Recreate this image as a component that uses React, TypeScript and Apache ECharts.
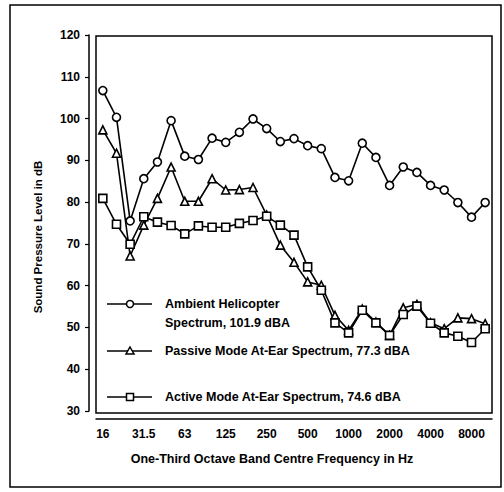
import React, { useEffect, useRef } from "react";
import * as echarts from "echarts";

const bands = ["16", "20", "25", "31.5", "40", "50", "63", "80", "100", "125", "160", "200", "250", "315", "400", "500", "630", "800", "1000", "1250", "1600", "2000", "2500", "3150", "4000", "5000", "6300", "8000", "10000"];
const labelledBands = ["16", "31.5", "63", "125", "250", "500", "1000", "2000", "4000", "8000"];

const ambient = [106.7, 100.3, 75.5, 85.6, 89.6, 99.5, 91.0, 90.2, 95.3, 94.3, 96.7, 99.9, 97.6, 94.5, 95.2, 93.5, 92.8, 85.9, 85.1, 94.1, 90.7, 84.0, 88.4, 87.1, 84.0, 82.9, 79.9, 76.4, 79.9];
const passive = [97.3, 91.7, 67.1, 74.5, 80.9, 88.4, 80.2, 80.2, 85.6, 82.9, 83.0, 83.5, 76.9, 69.7, 65.6, 60.9, 60.1, 52.9, 49.3, 54.4, 51.3, 48.1, 54.7, 55.5, 51.1, 49.7, 52.3, 52.1, 50.9];
const active = [80.9, 74.7, 69.9, 76.5, 75.2, 74.4, 72.4, 74.3, 74.0, 74.0, 74.9, 75.6, 76.6, 74.5, 72.1, 64.5, 58.9, 51.1, 48.7, 54.1, 51.1, 48.1, 53.1, 55.1, 51.0, 48.7, 47.9, 46.4, 49.7];

const seriesNames = ["Ambient Helicopter Spectrum, 101.9 dBA", "Passive Mode At-Ear Spectrum, 77.3 dBA", "Active Mode At-Ear Spectrum, 74.6 dBA"];

const FONT = "'Liberation Sans', Arial, Helvetica, sans-serif";

export default function App() {
  const ref = useRef<HTMLDivElement>(null);
  useEffect(() => {
    if (!ref.current) return;
    const chart = echarts.init(ref.current, null, { renderer: "svg" });
    const mkSeries = (name: string, data: number[], symbol: string, size: number) => ({
      name,
      type: "line",
      data,
      symbol,
      symbolSize: size,
      showAllSymbol: true,
      lineStyle: { color: "#000", width: 1.6 },
      itemStyle: { color: "#fff", borderColor: "#000", borderWidth: 1.6 },
      z: 3,
    });
    const legendY = [304, 351, 397];
    const legendText = [["Ambient Helicopter", "Spectrum, 101.9 dBA"], [seriesNames[1]], [seriesNames[2]]];
    const graphics: any[] = [
      { type: "rect", shape: { x: 10, y: 5, width: 491, height: 482 }, style: { fill: "none", stroke: "#000", lineWidth: 1.5 }, silent: true },
      { type: "rect", shape: { x: 96, y: 36, width: 396, height: 377 }, style: { fill: "none", stroke: "#000", lineWidth: 1.5 }, silent: true },
      {
        type: "text", x: 272, y: 459,
        style: { text: "One-Third Octave Band Centre Frequency in Hz", font: `bold 12.5px ${FONT}`, fill: "#000", textAlign: "center", textVerticalAlign: "middle" },
      },
      {
        type: "text", x: 38, y: 237, rotation: Math.PI / 2,
        style: { text: "Sound Pressure Level in dB", font: `bold 11.5px ${FONT}`, fill: "#000", textAlign: "center", textVerticalAlign: "middle" },
      },
    ];
    legendY.forEach((y, i) => {
      graphics.push({ type: "line", shape: { x1: 107, y1: y, x2: 152, y2: y }, style: { stroke: "#000", lineWidth: 1.5 } });
      if (i === 0) graphics.push({ type: "circle", shape: { cx: 130, cy: y, r: 3.5 }, style: { fill: "#fff", stroke: "#000", lineWidth: 1.5 } });
      if (i === 1) graphics.push({ type: "polygon", shape: { points: [[130, y - 4], [134, y + 3], [126, y + 3]] }, style: { fill: "#fff", stroke: "#000", lineWidth: 1.5 } });
      if (i === 2) graphics.push({ type: "rect", shape: { x: 126.5, y: y - 3.5, width: 7, height: 7 }, style: { fill: "#fff", stroke: "#000", lineWidth: 1.5 } });
      legendText[i].forEach((t, k) => {
        graphics.push({ type: "text", x: 165, y: y + k * 19, style: { text: t, font: `bold 12.5px ${FONT}`, fill: "#000", textAlign: "left", textVerticalAlign: "middle" } });
      });
    });
    chart.setOption({
      animation: false,
      backgroundColor: "#fff",
      grid: { left: 96, top: 35, width: 396, height: 376, containLabel: false },
      xAxis: {
        type: "category",
        data: bands,
        boundaryGap: true,
        offset: 8,
        axisLine: { lineStyle: { color: "#000", width: 1.5 } },
        axisTick: { alignWithLabel: true, length: 4, interval: (i: number) => labelledBands.includes(bands[i]), lineStyle: { color: "#000", width: 1.2 } },
        axisLabel: { interval: (i: number) => labelledBands.includes(bands[i]), color: "#000", fontFamily: FONT, fontWeight: "bold", fontSize: 12, margin: 9 },
        splitLine: { show: false },
      },
      yAxis: {
        type: "value",
        min: 30,
        max: 120,
        interval: 10,
        offset: 7,
        axisLine: { show: true, lineStyle: { color: "#000", width: 1.5 } },
        axisTick: { show: true, length: 4, lineStyle: { color: "#000", width: 1.2 } },
        axisLabel: { color: "#000", fontFamily: FONT, fontWeight: "bold", fontSize: 12, margin: 9 },
        splitLine: { show: false },
      },
      series: [
        mkSeries(seriesNames[0], ambient, "circle", 8),
        mkSeries(seriesNames[1], passive, "triangle", 8),
        mkSeries(seriesNames[2], active, "rect", 8),
      ],
      graphic: graphics,
    });
    return () => chart.dispose();
  }, []);
  return <div ref={ref} style={{ position: "absolute", left: 0, top: 0, width: 504, height: 492 }} />;
}
